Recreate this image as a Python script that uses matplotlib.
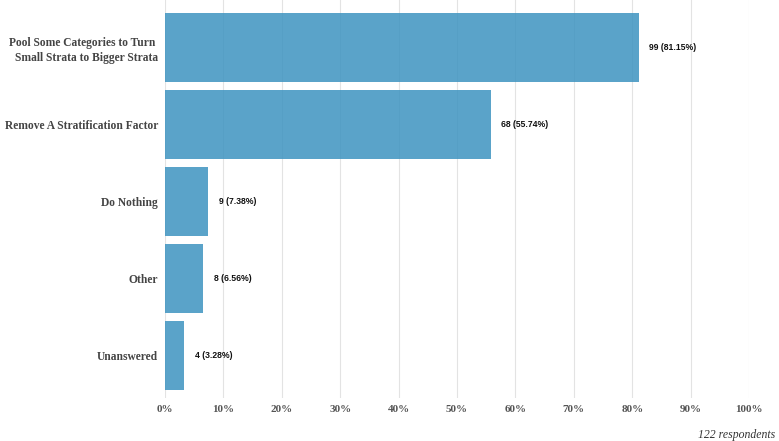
import matplotlib
matplotlib.use("Agg")
import matplotlib.pyplot as plt
import numpy as np

# data
categories = ["Pool Some Categories to Turn \nSmall Strata to Bigger Strata",
              "Remove A Stratification Factor",
              "Do Nothing",
              "Other",
              "Unanswered"]
counts = [99, 68, 9, 8, 4]
total = 122
shares = [c / total for c in counts]

fig = plt.figure(figsize=(7.79, 4.41), dpi=100)
ax = fig.add_axes([165 / 779, 43 / 441, (749 - 165) / 779, 398 / 441])

pos = np.arange(len(categories))
ax.barh(pos, shares, height=0.9, color="#3d93c0", alpha=0.85, zorder=2)

for p, c, s in zip(pos, counts, shares):
    ax.text(s + 0.018, p, f"{c} ({s * 100:.2f}%)", va="center", ha="left",
            fontsize=6.2, fontweight="bold", family="Liberation Sans", color="#111111")

ax.set_xlim(0, 1.0)
ax.set_ylim(4.55, -0.62)
ticks = np.arange(0, 1.01, 0.1)
ax.set_xticks(ticks)
ax.set_xticklabels([f"{int(round(t * 100))}%" for t in ticks])
ax.set_yticks(pos)
ax.set_yticklabels(categories, multialignment="right", linespacing=1.3)

for lab in ax.get_xticklabels():
    lab.set_family("Liberation Serif")
    lab.set_fontweight("bold")
    lab.set_fontsize(8)
    lab.set_color("#555555")
for lab in ax.get_yticklabels():
    lab.set_family("Liberation Serif")
    lab.set_fontweight("bold")
    lab.set_fontsize(8.3)
    lab.set_color("#444444")

ax.tick_params(axis="both", length=0)
ax.tick_params(axis="x", pad=5)
ax.tick_params(axis="y", pad=5)
ax.grid(axis="x", color="#e3e3e3", linewidth=0.8, zorder=0)
ax.set_axisbelow(True)
for sp in ax.spines.values():
    sp.set_visible(False)

fig.text(775 / 779, 1 - 435 / 441, "122 respondents", ha="right", va="center",
         fontsize=8.5, style="italic", family="Liberation Serif", color="#333333")

fig.savefig("out.png", dpi=100)
